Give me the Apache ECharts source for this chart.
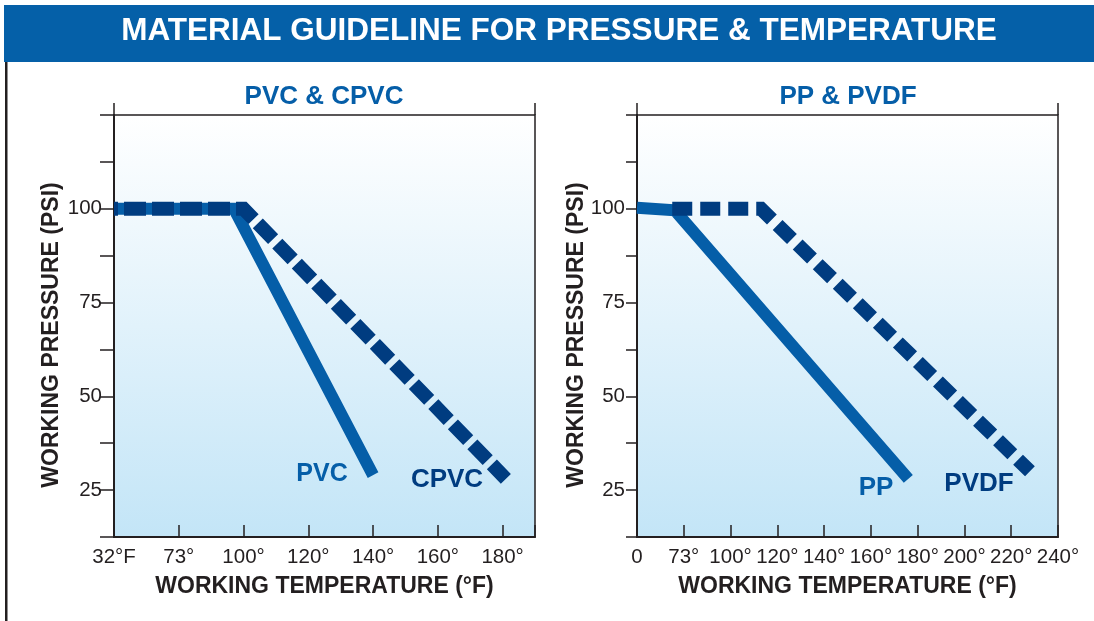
<!DOCTYPE html>
<html>
<head>
<meta charset="utf-8">
<script src="https://cdn.jsdelivr.net/npm/echarts@6/dist/echarts.min.js"></script>
<style>
html, body { margin: 0; padding: 0; background: #fff; }
#main { width: 1094px; height: 621px; }
</style>
</head>
<body>
<div id="main"></div>
<script>
// 数据
var leftTicks = [32, 73, 100, 120, 140, 160, 180];
var leftLabels = ['32°F', '73°', '100°', '120°', '140°', '160°', '180°'];
var pvc = [[32, 100], [96, 100], [140, 29]];
var cpvc = [[32, 100], [100, 100], [181, 28]];

var rightTicks = [0, 73, 100, 120, 140, 160, 180, 200, 220, 240];
var rightLabels = ['0', '73°', '100°', '120°', '140°', '160°', '180°', '200°', '220°', '240°'];
var pp = [[0, 100.3], [59, 99.6], [176, 28]];
var pvdf = [[55, 100], [113, 100], [228, 30]];

var psiLabels = [25, 50, 75, 100];

var LIGHT = '#055ea8';
var DARK = '#003c80';
var INK = '#231f20';
var FONT = '"Liberation Sans", Arial, Helvetica, sans-serif';

// 温度刻度不是等距的，按刻度序号换算横坐标
function toPos(t, ticks) {
    for (var i = 0; i < ticks.length - 1; i++) {
        if (t <= ticks[i + 1] || i == ticks.length - 2) {
            return i + (t - ticks[i]) / (ticks[i + 1] - ticks[i]);
        }
    }
}
function conv(arr, ticks) {
    return arr.map(function (d) { return [toPos(d[0], ticks), d[1]]; });
}

var myChart = echarts.init(document.getElementById('main'));

var bg = new echarts.graphic.LinearGradient(0, 0, 0, 1, [
    {offset: 0, color: '#ffffff'},
    {offset: 1, color: '#c3e5f7'}
]);

function xMain(grid, max, labels) {
    return {
        type: 'value', gridIndex: grid, min: 0, max: max, interval: 1,
        axisLine: {show: true, lineStyle: {color: INK, width: 2}},
        axisTick: {show: true, inside: true, length: 12, lineStyle: {color: INK, width: 1.5}},
        axisLabel: {
            margin: 10, fontSize: 20.5, color: INK, fontFamily: FONT,
            showMinLabel: true, showMaxLabel: true, hideOverlap: false,
            formatter: function (v) { return Number.isInteger(v) ? labels[v] : ''; }
        },
        splitLine: {show: false},
        name: 'WORKING TEMPERATURE (°F)', nameLocation: 'middle', nameGap: 38,
        nameTextStyle: {fontSize: 23, fontWeight: 'bold', color: INK, fontFamily: FONT}
    };
}
function xEnds(grid, max) {
    return {
        type: 'value', gridIndex: grid, min: 0, max: max, interval: max,
        axisLine: {show: false},
        axisTick: {show: true, inside: false, length: 12, lineStyle: {color: INK, width: 1.5}},
        axisLabel: {show: false},
        splitLine: {show: false}
    };
}
function yMain(grid) {
    return {
        type: 'value', gridIndex: grid, min: 12.5, max: 125, interval: 12.5,
        axisLine: {show: true, lineStyle: {color: INK, width: 2}},
        axisTick: {show: true, inside: false, length: 11, lineStyle: {color: INK, width: 1.5}},
        axisLabel: {
            margin: 12, fontSize: 20.5, color: INK, fontFamily: FONT,
            formatter: function (v) { return psiLabels.indexOf(v) >= 0 ? String(v) : ''; }
        },
        splitLine: {show: false}
    };
}

function solid(name, data, xi, yi) {
    return {
        name: name, type: 'line', xAxisIndex: xi, yAxisIndex: yi, data: data,
        symbol: 'none', silent: true, animation: false, z: 3,
        lineStyle: {color: LIGHT, width: 12, cap: 'butt', join: 'miter'}
    };
}
function dashed(name, data, xi, yi, dash, off) {
    return {
        name: name, type: 'line', xAxisIndex: xi, yAxisIndex: yi, data: data,
        symbol: 'none', silent: true, animation: false, z: 4,
        lineStyle: {color: DARK, width: 14, type: dash, dashOffset: off, cap: 'butt', join: 'miter'}
    };
}

function txt(s, x, y, size, color, rot, weight) {
    return {
        type: 'text', x: x, y: y, z: 10, rotation: rot || 0,
        style: {text: s, fill: color, font: (weight || 'bold') + ' ' + size + 'px ' + FONT, align: 'center', verticalAlign: 'middle'}
    };
}

var option = {
    animation: false,
    grid: [
        {left: 114, top: 115, width: 421, height: 422, show: true, backgroundColor: bg, borderColor: INK, borderWidth: 1.5},
        {left: 637, top: 115, width: 421, height: 422, show: true, backgroundColor: bg, borderColor: INK, borderWidth: 1.5}
    ],
    xAxis: [
        xMain(0, 6.5, leftLabels),
        xEnds(0, 6.5),
        xMain(1, 9, rightLabels),
        xEnds(1, 9)
    ],
    yAxis: [
        yMain(0),
        {   // 左图刻度线同时朝里
            type: 'value', gridIndex: 0, min: 12.5, max: 125, interval: 12.5,
            axisLine: {show: false},
            axisTick: {show: true, inside: true, length: 14, lineStyle: {color: INK, width: 1.5}},
            axisLabel: {show: false}, splitLine: {show: false}
        },
        yMain(1)
    ],
    series: [
        solid('PVC', conv(pvc, leftTicks), 0, 0),
        dashed('CPVC', conv(cpvc, leftTicks), 0, 0, [22, 6], -10),
        solid('PP', conv(pp, rightTicks), 2, 2),
        dashed('PVDF', conv(pvdf, rightTicks), 2, 2, [20, 8], 0)
    ],
    graphic: [
        {type: 'rect', shape: {x: 5, y: 38, width: 2.5, height: 583}, style: {fill: INK}, z: 1},
        {type: 'rect', shape: {x: 4, y: 5, width: 1090, height: 57}, style: {fill: '#0560a8'}, z: 2},
        txt('MATERIAL GUIDELINE FOR PRESSURE & TEMPERATURE', 559, 31, 31.5, '#ffffff'),
        txt('PVC & CPVC', 324, 97, 26, LIGHT),
        txt('PP & PVDF', 848, 97, 26, LIGHT),
        txt('PVC', 322, 474, 25, LIGHT),
        txt('CPVC', 447, 480, 26, DARK),
        txt('PP', 876, 488, 26, LIGHT),
        txt('PVDF', 979, 484, 26, DARK),
        txt('WORKING PRESSURE (PSI)', 52, 335, 23, INK, Math.PI / 2),
        txt('WORKING PRESSURE (PSI)', 577, 335, 23, INK, Math.PI / 2)
    ]
};
myChart.setOption(option);
</script>
</body>
</html>
